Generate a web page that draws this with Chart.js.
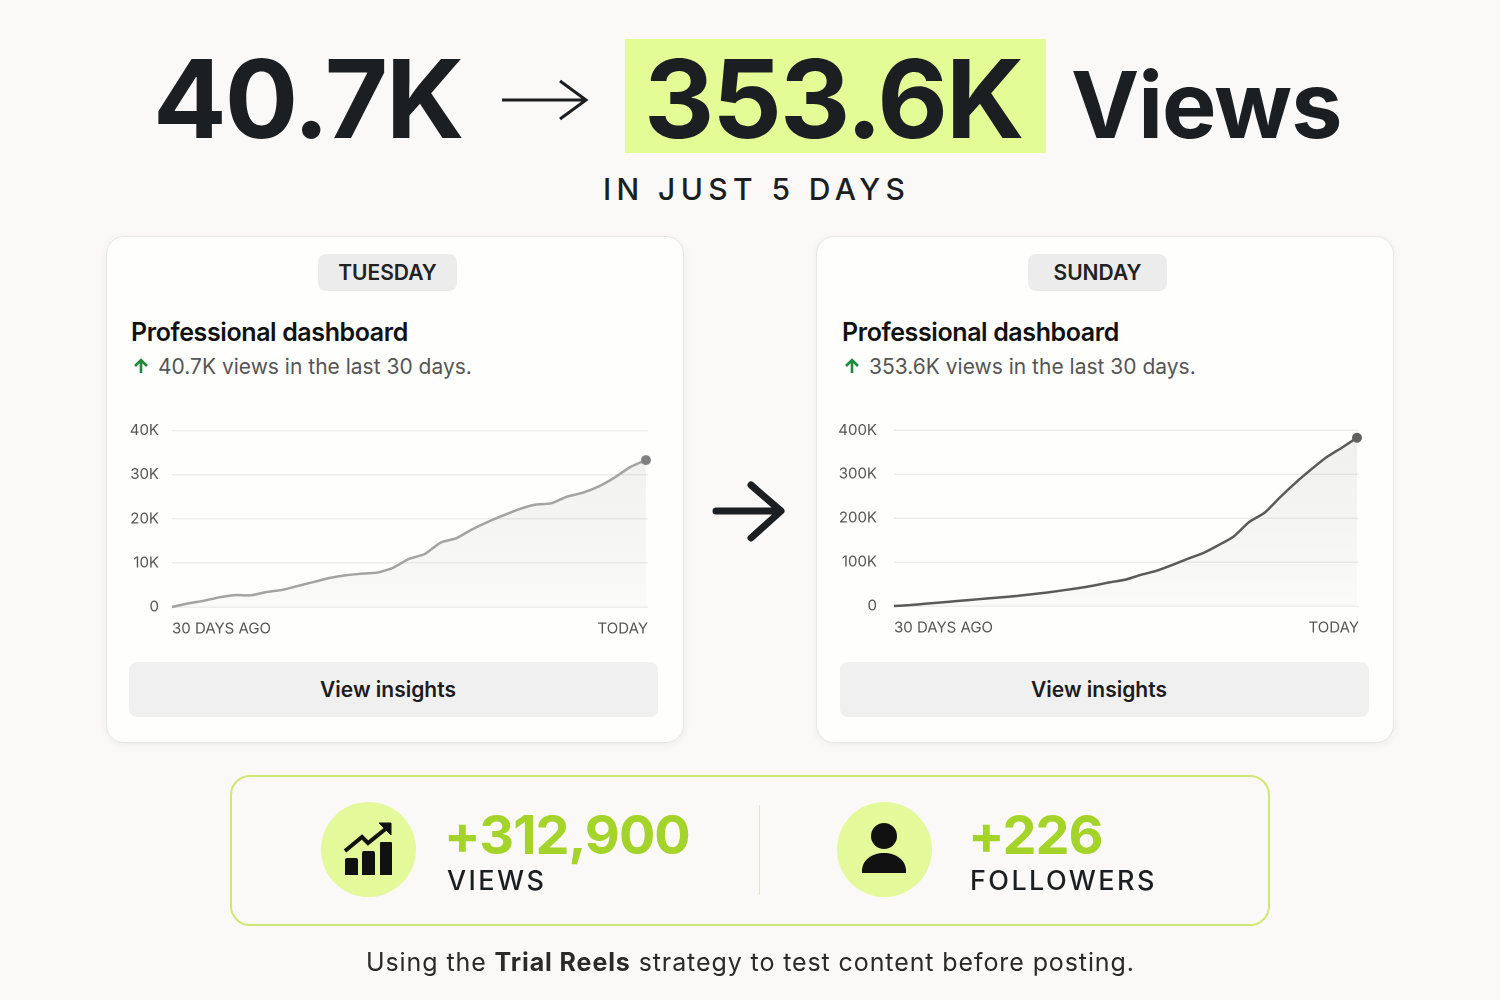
<!DOCTYPE html>
<html lang="en">
<head>
<meta charset="UTF-8" />
<title>40.7K to 353.6K Views</title>
<script src="https://cdn.jsdelivr.net/npm/chart.js"></script>
<style>
  html, body { margin: 0; padding: 0; }
  body { width: 1500px; height: 1000px; background: #faf9f7; position: relative; overflow: hidden; font-family: Inter, sans-serif; color: #1b1f22; }
  .t { position: absolute; white-space: nowrap; line-height: 1; }
  .big { font-weight: 700; font-size: 109px; letter-spacing: -2px; }
  .hl { position: absolute; left: 625px; top: 39px; width: 421px; height: 114px; background: #e4fc96; }
  .card { position: absolute; top: 236px; width: 576px; height: 505px; background: #fefefd; border: 1px solid #e6e6e4; border-radius: 18px; box-shadow: 0 2px 8px rgba(0,0,0,.05); }
  .badge { position: absolute; top: 254px; height: 37px; line-height: 38px; text-align: center; background: #ececec; border-radius: 8px; font-size: 21px; font-weight: 600; color: #222; }
  .head { font-size: 25px; font-weight: 600; color: #111; letter-spacing: -0.4px; }
  .sub { font-size: 21px; color: #555; }
  .btn { position: absolute; height: 55px; line-height: 55px; width: 518px; padding-right: 11px; text-align: center; background: #f0f0f0; border-radius: 8px; font-size: 21px; font-weight: 600; color: #1c1c1c; }
  canvas { position: absolute; }
  .box { position: absolute; left: 229.5px; top: 774.5px; width: 1036px; height: 147px; border: 2px solid #cfe873; border-radius: 20px; }
  .sep { position: absolute; left: 759px; top: 805px; width: 1px; height: 90px; background: #dfe8c0; }
  .circ { position: absolute; top: 802px; width: 95px; height: 95px; border-radius: 50%; background: #e3f99a; }
  .num { font-size: 54px; font-weight: 700; color: #a4d32a; letter-spacing: -1px; }
  .lab { font-size: 27px; font-weight: 500; letter-spacing: 2.4px; color: #1b1f22; }
  svg { position: absolute; overflow: visible; }
</style>
</head>
<body>
  <div class="hl"></div>
  <div class="t big" style="left:153px;top:44px">40.7K</div>
  <div class="t big" style="left:644px;top:44px">353.6K</div>
  <div class="t big" style="left:1071px;top:59px;font-size:91.5px;letter-spacing:-1px">Views</div>
  <div class="t" style="left:603px;top:174px;font-size:30px;font-weight:500;letter-spacing:5.4px">IN JUST 5 DAYS</div>

  <div class="card" style="left:106px"></div>
  <div class="card" style="left:816px"></div>
  <svg style="left:0;top:0" width="1500" height="1000">
    <path d="M502 100H586M560 81L586 100L560 119" fill="none" stroke="#1b1f22" stroke-width="3"/>
    <path d="M716 511H780M751 485L781 511L751 538" fill="none" stroke="#1b1f22" stroke-width="7" stroke-linecap="round" stroke-linejoin="round"/>
    <path d="M141 373V360M135 366L141 360L147 366" fill="none" stroke="#1f8a3b" stroke-width="2.6"/>
    <path d="M852 373V360M846 366L852 360L858 366" fill="none" stroke="#1f8a3b" stroke-width="2.6"/>
  </svg>
  <div class="badge" style="left:318px;width:139px">TUESDAY</div>
  <div class="badge" style="left:1028px;width:139px">SUNDAY</div>
  <div class="t head" style="left:131px;top:320px">Professional dashboard</div>
  <div class="t head" style="left:842px;top:320px">Professional dashboard</div>
  <div class="t sub" style="left:158px;top:356px">40.7K views in the last 30 days.</div>
  <div class="t sub" style="left:869px;top:356px">353.6K views in the last 30 days.</div>

  <canvas id="tuesdayChart" style="left:110px;top:415px;width:555px;height:230px"></canvas>
  <canvas id="sundayChart" style="left:820px;top:414px;width:555px;height:230px"></canvas>

  <div class="btn" style="left:129px;top:662px">View insights</div>
  <div class="btn" style="left:840px;top:662px">View insights</div>

  <div class="box"></div>
  <div class="sep"></div>
  <div class="circ" style="left:321px"></div>
  <div class="circ" style="left:837px"></div>
  <svg style="left:0;top:0" width="1500" height="1000">
    <path d="M345 860a2 2 0 0 1 2-2h9a2 2 0 0 1 2 2v15h-13zM362 853a2 2 0 0 1 2-2h9a2 2 0 0 1 2 2v22h-13zM380 843a1 1 0 0 1 1-1h10a1 1 0 0 1 1 1v32h-12z" fill="#111"/>
    <path d="M345 851L362 837L368 843L388 827" fill="none" stroke="#111" stroke-width="4"/>
    <path d="M379 823H391V835Z" fill="#111" stroke="#111" stroke-width="1"/>
    <circle cx="884" cy="836" r="13" fill="#111"/>
    <path d="M862 873c-1-13 10-20 22-20s23 7 22 20z" fill="#111"/>
  </svg>
  <div class="t num" style="left:444px;top:808px">+312,900</div>
  <div class="t lab" style="left:447px;top:867px">VIEWS</div>
  <div class="t num" style="left:968px;top:808px">+226</div>
  <div class="t lab" style="left:970px;top:867px">FOLLOWERS</div>
  <div class="t" style="left:366px;top:950px;font-size:25px;letter-spacing:.9px;color:#2a2a2a">Using the <b style="font-weight:700">Trial Reels</b> strategy to test content before posting.</div>

<script>
const days = [0,1,2,3,4,5,6,7,8,9,10,11,12,13,14,15,16,17,18,19,20,21,22,23,24,25,26,27,28,29,30];
const tuesdayViews = [0,800,1400,2200,2700,2650,3400,3900,4800,5700,6600,7200,7550,7800,8900,10900,12000,14600,15600,17600,19300,20800,22200,23200,23500,25000,25900,27300,29300,31700,33300];
const sundayViews = [0,2000,5000,8000,11000,14000,17000,20000,23000,27000,31000,36000,41000,47000,54000,60000,71000,80000,93000,107000,120000,138000,158000,191000,212000,247000,280000,310000,338000,360000,383000];
const tuesdayTicks = ['0','10K','20K','30K','40K'];
const sundayTicks = ['0','100K','200K','300K','400K'];
const xLabels = ['30 DAYS AGO','TODAY'];

function drawDash(id, values, yTicks, yMax, lineColor, dotColor, yWidth, labelGap, padTop, padRight) {
  new Chart(document.getElementById(id), {
    type: 'line',
    data: {
      labels: days,
      datasets: [{
        data: values,
        clip: false,
        borderColor: lineColor,
        borderWidth: 2.5,
        tension: 0.2,
        fill: 'origin',
        backgroundColor(ctx) {
          const area = ctx.chart.chartArea;
          if (!area) return 'transparent';
          const g = ctx.chart.ctx.createLinearGradient(0, area.top, 0, area.bottom);
          g.addColorStop(0, 'rgba(0,0,0,0.06)');
          g.addColorStop(1, 'rgba(0,0,0,0.015)');
          return g;
        },
        pointRadius: c => c.dataIndex === values.length - 1 ? 5 : 0,
        pointBackgroundColor: dotColor,
        pointBorderWidth: 0
      }]
    },
    options: {
      responsive: false,
      animation: false,
      devicePixelRatio: 2,
      layout: { padding: { top: padTop, right: padRight } },
      plugins: { legend: { display: false }, tooltip: { enabled: false } },
      scales: {
        x: {
          type: 'linear',
          min: 0,
          max: 30.13,
          afterBuildTicks(axis) { axis.ticks = [{ value: 0 }, { value: 30.13 }]; },
          afterFit(axis) { axis.height = 38; axis.paddingLeft = 0; axis.paddingRight = 0; },
          grid: { display: false },
          border: { display: false },
          ticks: {
            align: 'inner',
            maxRotation: 0,
            autoSkip: false,
            padding: 5,
            color: '#555',
            font: { family: 'Inter', size: 15 },
            callback: (v, i) => xLabels[i]
          }
        },
        y: {
          min: 0,
          max: yMax,
          // tick padding otherwise pushes the plot top down
          afterFit(axis) { axis.width = yWidth; axis.paddingTop = 0; axis.paddingBottom = 0; },
          grid: { color: '#eeeeee', lineWidth: 1.5, drawTicks: false },
          border: { display: false },
          ticks: {
            stepSize: yMax / 4,
            padding: labelGap,
            color: '#555',
            font: { family: 'Inter', size: 15 },
            callback: (v, i) => yTicks[i]
          }
        }
      }
    }
  });
}

const tc = document.getElementById('tuesdayChart');
const sc = document.getElementById('sundayChart');
tc.width = sc.width = 555;
tc.height = sc.height = 230;
drawDash('tuesdayChart', tuesdayViews, tuesdayTicks, 40000, '#a3a3a3', '#808080', 62, 13, 15.5, 17);
drawDash('sundayChart', sundayViews, sundayTicks, 400000, '#5a5a5a', '#606060', 74, 17, 16.3, 16);
</script>
</body>
</html>
